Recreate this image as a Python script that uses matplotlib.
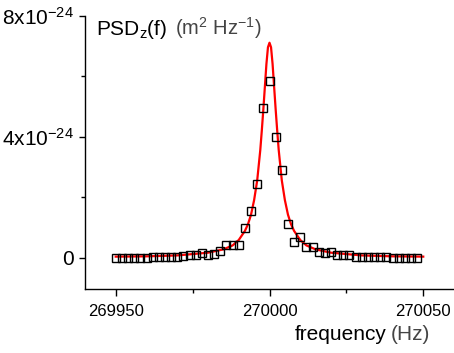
import numpy as np
import matplotlib
matplotlib.use('Agg')
import matplotlib.pyplot as plt
from matplotlib.ticker import MultipleLocator

plt.rcParams['font.family'] = ['Liberation Sans', 'DejaVu Sans']
plt.rcParams['mathtext.fontset'] = 'custom'
plt.rcParams['mathtext.rm'] = 'Liberation Sans'
plt.rcParams['mathtext.it'] = 'Liberation Sans'

# measured PSD points (units of 1e-24 m^2/Hz), 2 Hz steps from 269950
freq_pts = 269950 + 2 * np.arange(50)
psd_pts = [0.00, 0.00, 0.00, 0.00, 0.00, 0.00, 0.01, 0.02, 0.02, 0.02,
           0.03, 0.05, 0.07, 0.07, 0.16, 0.10, 0.13, 0.23, 0.40, 0.41,
           0.42, 0.96, 1.54, 2.44, 4.93, 5.83, 3.97, 2.90, 1.12, 0.52,
           0.69, 0.34, 0.36, 0.18, 0.14, 0.19, 0.10, 0.09, 0.07, 0.02,
           0.02, 0.02, 0.03, 0.02, 0.01, 0.00, 0.00, 0.00, 0.00, 0.00]

# fitted curve
fit_df = [-50, -40, -30, -20, -15, -12, -10, -8, -7, -6, -5, -4, -3, -2.5, -2, -1.5, -1, -0.5, 0,
          0.5, 1, 1.5, 2, 2.5, 3, 4, 5, 6, 7, 8, 10, 12, 15, 20, 30, 40, 50]
fit_psd = [0.03, 0.04, 0.07, 0.16, 0.27, 0.40, 0.58, 0.88, 1.10, 1.42, 1.90, 2.55, 3.55, 4.20,
           4.90, 5.65, 6.40, 6.95, 7.10, 6.95, 6.40, 5.65, 4.90, 4.20, 3.55, 2.55, 1.90, 1.42,
           1.10, 0.88, 0.58, 0.40, 0.27, 0.16, 0.07, 0.04, 0.03]
f0 = 270000

fig = plt.figure(figsize=(4.54, 3.53), dpi=100)
ax = fig.add_axes([85 / 454, 1 - 289 / 353, 1 - 85 / 454, (289 - 15.5) / 353])

ax.plot(f0 + np.array(fit_df), np.array(fit_psd) * 1e-24, color='#ff0000', lw=1.6, zorder=2)
ax.plot(freq_pts, np.array(psd_pts) * 1e-24, ls='none', marker='s', ms=6.3,
        mfc='none', mec='black', mew=1.0, zorder=3)

ax.set_xlim(269940, 270060)
ax.set_ylim(-1.04e-24, 8e-24)

ax.xaxis.set_minor_locator(MultipleLocator(25))
ax.set_xticks([269950, 270000, 270050])
ax.set_xticklabels(['269950', '270000', '270050'])
ax.set_yticks([0, 4e-24, 8e-24])
ax.set_yticklabels(['0', r'$\mathregular{4x10^{-24}}$', r'$\mathregular{8x10^{-24}}$'])
ax.yaxis.set_minor_locator(MultipleLocator(2e-24))

ax.tick_params(axis='x', which='major', direction='out', length=5, width=1, labelsize=12, pad=6)
ax.tick_params(axis='x', which='minor', direction='out', length=3, width=1)
ax.tick_params(axis='y', which='major', direction='out', length=4, width=1, labelsize=15, pad=4)
ax.tick_params(axis='y', which='minor', direction='out', length=3, width=1)

for s in ['top', 'right']:
    ax.spines[s].set_visible(False)
for s in ['left', 'bottom']:
    ax.spines[s].set_linewidth(1)

# axis titles: black name, grey unit
fig.text(96 / 454, 1 - 35 / 353, r'PSD$_\mathregular{z}$(f)', fontsize=15, color='black', va='baseline')
fig.text(175 / 454, 1 - 35 / 353, r'(m$^\mathregular{2}$ Hz$^\mathregular{-1}$)', fontsize=14.5,
         color='#444444', va='baseline')
fig.text(295 / 454, 1 - 340 / 353, 'frequency', fontsize=15, color='black', va='baseline')
fig.text(391 / 454, 1 - 340 / 353, '(Hz)', fontsize=15, color='#444444', va='baseline')

fig.savefig('out.png', dpi=100)
